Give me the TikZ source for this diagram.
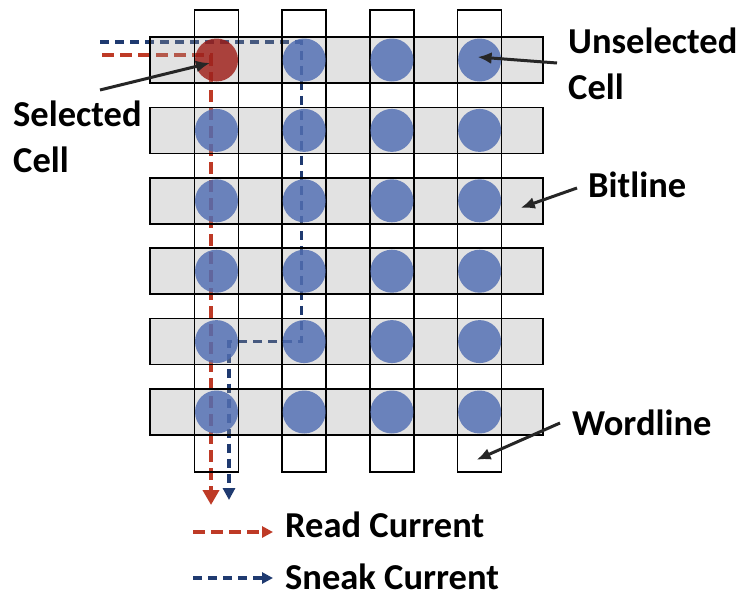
\documentclass[tikz,border=0pt]{standalone}
\usepackage{fontspec}
\setmainfont{Carlito}
\usetikzlibrary{arrows.meta}
\definecolor{cellblue}{HTML}{4C6AB2}
\definecolor{cellred}{HTML}{9C1913}
\definecolor{readred}{HTML}{BE3A26}
\definecolor{sneaknavy}{HTML}{1F3A70}
\definecolor{linegray}{HTML}{A2A2A2}
\pgfdeclarelayer{current}
\pgfsetlayers{current,main}

\begin{document}
\begin{tikzpicture}[x=1pt,y=-1pt,
lbl/.style={font=\fontsize{36.5}{46}\selectfont\bfseries,inner sep=0pt,align=left},
bitline/.style={draw=black,line width=1.6pt,fill=linegray,fill opacity=0.3,minimum width=393pt,minimum height=46pt,inner sep=0pt},
wordline/.style={draw=black,line width=1.6pt,minimum width=44pt,minimum height=462pt,inner sep=0pt},
cell/.style={circle,fill=cellblue,opacity=0.8,minimum size=43pt,inner sep=0pt},
selcell/.style={cell,fill=cellred},
readcur/.style={draw=readred,line width=4pt,dash pattern=on 12pt off 6pt,-{Triangle[length=15pt,width=16pt]}},
sneakcur/.style={draw=sneaknavy,line width=3.4pt,dash pattern=on 9pt off 6pt,-{Triangle[length=12pt,width=12pt]}},
keyarrow/.style={-{Triangle[length=11pt,width=11pt]}},
pointer/.style={draw=black!85,line width=3pt,-{Latex[length=14pt,width=12pt]}}]
\useasboundingbox (0,0) rectangle (738,597);

% crossbar: bitlines, wordlines, cells
\foreach \i in {1,...,6}
  \node[bitline] (bl-\i) at (346.5,{60+70.4*(\i-1)}) {};
\foreach \j in {1,...,4}
  \node[wordline] (wl-\j) at ({216.5+87.7*(\j-1)},241) {};
\foreach \i in {1,...,6}
  \foreach \j in {1,...,4}{
    \ifnum\i\j=11 \def\kind{selcell}\else\def\kind{cell}\fi
    \node[\kind] (c-\i-\j) at ({216.5+87.7*(\j-1)},{60+70.4*(\i-1)}) {};}

% currents, under the lines
\coordinate (readin) at (102,55);
\coordinate (readout) at (211,505);
\coordinate (sneakin) at (100,42);
\coordinate (sneakout) at (229,500);
\begin{pgfonlayer}{current}
\fill[white] (0,0) rectangle (738,597);
\draw[readcur] (readin) -| (readout);
\draw[sneakcur] (sneakin) -| ([xshift=-3pt]c-5-2.center) -| (sneakout);
\end{pgfonlayer}

% labels
\node[lbl,anchor=base west] (sel) at (13,172) {Selected\\Cell};
\node[lbl,anchor=base west] (unsel) at (568,99) {Unselected\\Cell};
\node[lbl,anchor=base west] (bit) at (588,197) {Bitline};
\node[lbl,anchor=base west] (word) at (572,435) {Wordline};
\coordinate (seltail) at (100,90);
\coordinate (unseltail) at (557,63);
\coordinate (bittail) at (577,188);
\coordinate (wordtail) at (560,423);
\draw[pointer] (seltail) -- ([shift={(-6.5,3)}]c-1-1.center);
\draw[pointer] (unseltail) -- ([shift={(-2,-3)}]c-1-4.center);
\draw[pointer] (bittail) -- ([shift={(-23,7)}]bl-3.east);
\draw[pointer] (wordtail) -- ([shift={(-3,-13)}]wl-4.south);

% legend
\node[lbl,anchor=base west] (readlbl) at (285,537) {Read Current};
\node[lbl,anchor=base west] (sneaklbl) at (285,589) {Sneak Current};
\coordinate (readkey) at (193,532);
\coordinate (sneakkey) at (193,578);
\draw[readcur,keyarrow] (readkey) -- (readkey -| readlbl.west) [shorten >=12pt];
\draw[sneakcur,keyarrow] (sneakkey) -- (sneakkey -| sneaklbl.west) [shorten >=12pt];
\end{tikzpicture}
\end{document}
